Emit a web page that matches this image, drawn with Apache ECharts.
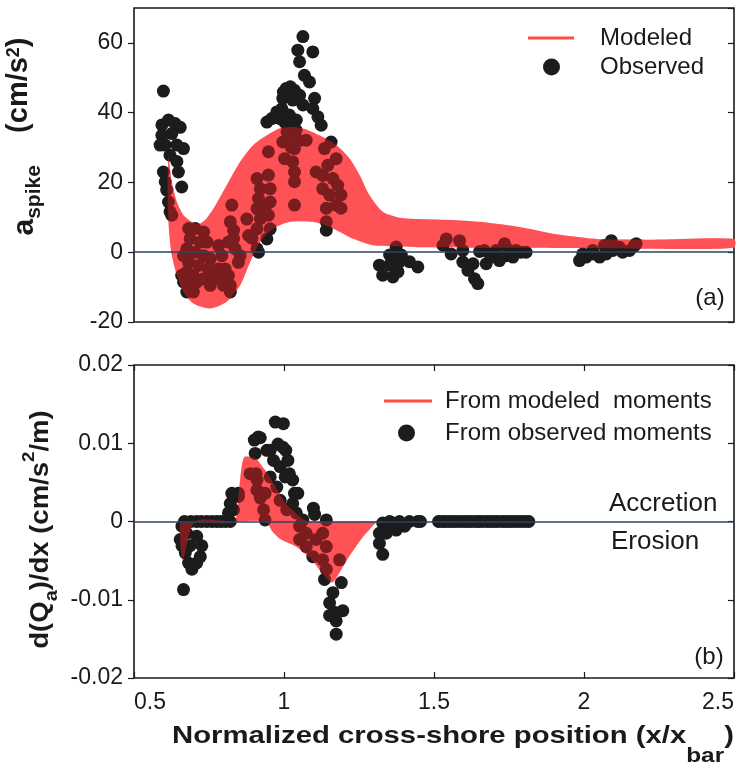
<!DOCTYPE html>
<html>
<head>
<meta charset="utf-8">
<script src="https://cdn.jsdelivr.net/npm/echarts@6/dist/echarts.min.js"></script>
<style>
  html, body { margin: 0; padding: 0; background: #ffffff; }
  #chart { width: 738px; height: 770px; }
</style>
</head>
<body>
<div id="chart"></div>
<script>
// ---- axis ticks ----
const xTicks = [0.5, 1, 1.5, 2, 2.5];
const spikeTicks = [-20, 0, 20, 40, 60];
const spikeMax = 70;
const fluxTicks = [-0.02, -0.01, 0, 0.01, 0.02];

// ---- panel (a): modeled a_spike envelope (upper and lower edges) ----
const modelUpperX = [0.615, 0.626, 0.643, 0.665, 0.690, 0.704, 0.721, 0.740, 0.765, 0.809, 0.854, 0.898, 0.943, 0.987, 1.032, 1.074, 1.118, 1.174, 1.218, 1.252, 1.285, 1.329, 1.385, 1.452, 1.563, 1.674, 1.785, 1.896, 2.007, 2.063, 2.229, 2.5];
const modelUpperY = [27.8, 20.2, 14.4, 10.6, 8.8, 8.2, 8.2, 9.5, 12.5, 19.2, 25.9, 30.7, 33.5, 35.5, 35.9, 35.2, 33.5, 30.7, 26.9, 22.1, 16.3, 11.6, 9.9, 9.5, 9.2, 8.5, 7.2, 5.3, 4.1, 3.7, 3.6, 3.8];
const modelLowerX = [0.615, 0.612, 0.613, 0.618, 0.626, 0.643, 0.665, 0.698, 0.754, 0.809, 0.854, 0.887, 0.921, 0.965, 1.020, 1.096, 1.163, 1.229, 1.296, 1.374, 1.452, 1.600, 1.800, 2.000, 2.200, 2.500];
const modelLowerY = [27.8, 20.2, 12.5, 4.9, -0.9, -6.6, -11.4, -14.7, -16.1, -14.2, -9.5, -2.8, 3.0, 6.8, 8.7, 8.7, 6.8, 3.9, 2.0, 1.7, 1.4, 1.3, 1.3, 1.2, 1.0, 1.3];

// ---- panel (a): observed a_spike ----
const observedSpike = [
  [0.598,46.2],[0.593,36.5],[0.615,37.9],[0.637,36.9],[0.654,35.8],[0.593,33.5],[0.626,34.0],[0.604,30.7],[0.643,30.7],[0.665,29.7],
  [0.587,30.7],[0.620,27.8],[0.643,26.0],[0.598,23.0],[0.648,23.0],[0.604,20.2],[0.659,18.7],[0.609,17.8],[0.615,14.4],[0.620,11.6],[0.626,10.6],
  [0.659,-6.6],[0.665,-8.5],[0.682,6.8],[0.704,6.8],[0.732,5.8],[0.687,3.9],[0.721,2.9],[0.743,2.9],[0.676,1.0],[0.704,0.0],
  [0.732,-1.0],[0.754,-1.9],[0.665,-1.0],[0.682,-2.9],[0.715,-3.8],[0.748,-4.8],[0.676,-5.7],[0.698,-6.7],[0.732,-7.6],[0.765,-7.6],
  [0.687,-9.5],[0.709,-8.6],[0.698,-11.4],[0.676,-11.4],[0.754,-9.5],
  [0.782,1.9],[0.793,-1.0],[0.782,-4.8],[0.804,-4.8],[0.787,-7.6],[0.815,-6.7],[0.821,-9.5],[0.821,-11.4],[0.798,-9.5],
  [0.826,13.5],[0.821,8.7],[0.832,6.3],[0.815,2.9],[0.837,1.0],[0.854,-1.0],[0.848,-2.9],[0.832,3.9],
  [0.876,9.5],[0.882,4.8],[0.893,4.0],[0.910,1.0],[0.915,0.0],
  [0.910,21.1],[0.921,18.2],[0.915,15.4],[0.910,12.5],[0.921,9.6],[0.910,6.7],[0.943,3.8],[0.954,6.7],[0.948,22.1],[0.954,18.2],
  [0.954,14.4],[0.948,10.6],[0.937,12.5],[0.948,28.8],
  [0.959,38.3],[0.987,38.3],[1.009,37.3],[0.976,40.2],[0.993,41.1],[0.943,37.3],[0.998,45.9],[1.015,45.0],[1.021,47.4],
  [1.063,61.8],[1.046,57.9],[1.096,57.4],[1.052,54.6],[1.068,50.7],[1.085,48.8],[1.007,46.9],[1.035,46.4],[1.052,45.0],[1.102,44.1],
  [0.996,44.1],[1.029,43.6],[1.063,42.2],[1.096,41.2],[1.113,38.8],[1.124,36.4],[0.996,40.2],[1.018,39.3],[1.041,37.9],[1.002,37.3],
  [1.074,32.1],[1.018,33.5],[1.035,29.7],[1.029,25.9],[1.035,23.0],[1.035,20.2],[1.035,13.5],[0.996,31.6],[1.002,26.8],
  [1.010,34.5],[1.040,35.0],[1.050,32.0],[1.025,30.0],
  [1.157,31.6],[1.135,29.7],[1.174,26.8],[1.146,24.9],[1.107,23.0],[1.129,22.0],[1.163,21.1],[1.179,19.2],[1.129,18.2],[1.152,16.4],
  [1.190,16.4],[1.174,13.5],[1.141,12.6],[1.190,12.6],[1.141,8.7],[1.141,6.3],
  [1.374,1.5],[1.352,-0.8],[1.391,-0.8],[1.318,-3.7],[1.352,-3.7],[1.385,-2.7],[1.418,-2.7],[1.446,-4.2],[1.329,-6.6],[1.363,-7.1],[1.380,-5.6],
  [1.541,3.8],[1.530,2.0],[1.557,-0.5],[1.585,3.3],[1.596,0.5],[1.596,-2.8],[1.613,-5.2],[1.635,-7.6],[1.646,-9.0],[1.630,-3.3],
  [1.652,0.2],[1.668,0.5],[1.674,-3.3],[1.690,-1.4],[1.718,-2.4],[1.707,0.5],[1.735,2.4],[1.752,0.5],[1.774,0.5],[1.790,0.0],
  [1.807,0.0],[1.741,-1.0],[1.763,-1.4],
  [1.985,-2.4],[2.007,-1.4],[2.029,-0.5],[2.052,-1.4],[2.074,-0.5],[2.091,3.3],[2.096,0.5],[2.118,1.4],[2.129,0.0],[2.152,0.5],
  [2.168,1.9],[2.174,2.4],[2.068,1.9],[2.029,0.5],[1.996,-0.5]
];

// ---- panel (b): dQa/dx from modeled moments (upper and lower edges) ----
const fluxUpperX = [0.652, 0.700, 0.833, 0.850, 0.867, 0.907, 0.930, 0.953, 0.980, 1.006, 1.033, 1.059, 1.085, 1.310];
const fluxUpperY = [0, 0, 0, 0.0040, 0.0082, 0.0080, 0.0069, 0.0057, 0.0039, 0.0023, 0.0013, 0.0004, 0, 0];
const fluxLowerX = [0.652, 0.656, 0.663, 0.704, 0.833, 0.940, 0.960, 0.990, 1.040, 1.090, 1.125, 1.160, 1.190, 1.215, 1.240, 1.265, 1.290, 1.310];
const fluxLowerY = [0, -0.0035, -0.0049, 0, 0, 0, -0.0012, -0.0023, -0.0032, -0.0048, -0.0065, -0.0078, -0.0062, -0.0046, -0.0032, -0.0019, -0.0008, 0];

// ---- panel (b): dQa/dx from observed moments ----
const observedFlux = [
  [0.665,-0.0087],[0.654,-0.0023],[0.660,-0.0031],[0.671,-0.0040],[0.682,-0.0053],[0.693,-0.0061],[0.709,-0.0053],[0.721,-0.0045],
  [0.726,-0.0031],[0.709,-0.0019],[0.687,-0.0031],[0.676,-0.0015],[0.660,-0.0006],
  [0.668,0],[0.690,0],[0.709,0],[0.725,0],[0.743,0],[0.760,0],[0.776,0],[0.790,0],[0.805,0],[0.821,0],
  [0.815,0.0011],[0.821,0.0023],[0.826,0.0036],[0.848,0.0032],[0.832,0.0015],
  [0.887,0.0061],[0.910,0.0053],[0.910,0.0040],[0.921,0.0030],[0.932,0.0015],[0.937,0.0002],[0.907,0.0061],[0.937,0.0036],[0.848,0.0036],
  [0.904,0.0087],[0.921,0.0107],[0.901,0.0104],[0.914,0.0108],[0.971,0.0127],[0.998,0.0125],[0.980,0.0099],[0.943,0.0091],[0.954,0.0091],
  [0.965,0.0078],[0.987,0.0070],[0.954,0.0057],[0.976,0.0044],[1.004,0.0057],[0.987,0.0027],[1.009,0.0015],
  [0.996,0.0095],[1.006,0.0091],[1.013,0.0078],[1.018,0.0061],[1.029,0.0053],[1.035,0.0036],[1.046,0.0036],[1.029,0.0023],[1.041,0.0011],
  [1.098,0.0017],[1.102,0.0009],[1.141,0.0002],[1.063,0.0002],
  [1.052,-0.0006],[1.074,-0.0015],[1.052,-0.0023],[1.074,-0.0032],[1.107,-0.0023],[1.129,-0.0015],[1.141,-0.0032],[1.096,-0.0045],
  [1.129,-0.0049],[1.185,-0.0049],[1.141,-0.0061],[1.135,-0.0074],[1.191,-0.0078],[1.163,-0.0091],[1.152,-0.0104],[1.168,-0.0116],
  [1.196,-0.0114],[1.174,-0.0127],[1.174,-0.0144],[1.152,-0.0120],
  [1.329,-0.0002],[1.352,0],[1.385,0],[1.418,0],[1.446,0],[1.318,-0.0015],[1.341,-0.0015],[1.374,-0.0011],[1.402,-0.0006],
  [1.318,-0.0028],[1.329,-0.0042],[1.363,-0.0002],
  [1.455,0],[1.515,0],[1.527,0],[1.538,0],[1.551,0],[1.563,0],[1.574,0],[1.588,0],[1.601,0],[1.612,0],[1.625,0],[1.639,0],
  [1.650,0],[1.662,0],[1.676,0],[1.688,0],[1.701,0],[1.713,0],[1.727,0],[1.739,0],[1.752,0],[1.764,0],[1.777,0],[1.790,0],
  [1.803,0],[1.816,0]
];

// ---- styling ----
const FONT = '"Liberation Sans", Arial, Helvetica, sans-serif';
const INK = '#1a1a1a';
const DOT = '#1c1c1c';
const LEGEND_RED = '#ff4d3d';
const BAND_BASE = 'rgb(255,120,125)';          // envelope, painted under the dots
const BAND_TINT = 'rgba(255,30,35,0.42)';      // same envelope, tinting the dots it covers
const ZERO_LINE = '#2c4562';

// Envelope polygon: upper edge left->right, lower edge right->left.
function envelope(name, xi, yi, upX, upY, loX, loY, fill, z) {
  return {
    name: name, type: 'custom', xAxisIndex: xi, yAxisIndex: yi, z: z, silent: true,
    itemStyle: { color: LEGEND_RED },
    data: [[upX[0], upY[0]]],
    encode: { x: 0, y: 1 },
    renderItem: function (params, api) {
      const pts = [];
      for (let i = 0; i < upX.length; i++) pts.push(api.coord([upX[i], upY[i]]));
      for (let i = loX.length - 1; i >= 0; i--) pts.push(api.coord([loX[i], loY[i]]));
      return { type: 'polygon', shape: { points: pts, smooth: 0.25, smoothConstraint: false },
               style: { fill: fill, stroke: null } };
    }
  };
}

function zeroLine(xi, yi) {
  return {
    type: 'line', xAxisIndex: xi, yAxisIndex: yi, z: 1, silent: true, data: [],
    markLine: {
      silent: true, symbol: ['none', 'none'], label: { show: false },
      lineStyle: { color: ZERO_LINE, width: 1.6, type: 'solid' },
      data: [{ yAxis: 0 }]
    }
  };
}

const tickLine = { color: INK, width: 1.2 };
const labelStyle = { fontFamily: FONT, fontSize: 23, color: INK };
const hiddenLine = { show: false, onZero: false };

function legendBox(name, icon, color, left, top, w, h, pad) {
  return {
    data: [{ name: name, icon: icon, itemStyle: { color: color, opacity: 1 } }],
    left: left, top: top, itemWidth: w, itemHeight: h, selectedMode: false,
    textStyle: { fontFamily: FONT, fontSize: 24, color: INK, padding: [0, 0, 0, pad] }
  };
}

function dots(name, xi, yi, data) {
  return {
    name: name, type: 'scatter', xAxisIndex: xi, yAxisIndex: yi, z: 3, silent: true,
    symbol: 'circle', symbolSize: 13, itemStyle: { color: DOT, opacity: 1 }, data: data
  };
}

const option = {
  animation: false,
  backgroundColor: '#ffffff',
  textStyle: { fontFamily: FONT },
  grid: [
    { left: 134, top: 8, width: 600, height: 314, show: true, borderColor: INK, borderWidth: 1.6, backgroundColor: 'transparent' },
    { left: 134, top: 365, width: 600, height: 313, show: true, borderColor: INK, borderWidth: 1.6, backgroundColor: 'transparent' }
  ],
  xAxis: [
    { gridIndex: 0, type: 'value', min: xTicks[0], max: xTicks[xTicks.length - 1], interval: xTicks[1] - xTicks[0],
      axisLine: hiddenLine, axisTick: { show: false }, axisLabel: { show: false }, splitLine: { show: false } },
    { gridIndex: 1, type: 'value', position: 'bottom', min: xTicks[0], max: xTicks[xTicks.length - 1], interval: xTicks[1] - xTicks[0],
      axisLine: hiddenLine, axisTick: { inside: true, length: 6, lineStyle: tickLine },
      axisLabel: Object.assign({ margin: 13, alignMinLabel: 'left', alignMaxLabel: 'right' }, labelStyle),
      splitLine: { show: false } },
    { gridIndex: 1, type: 'value', position: 'top', min: xTicks[0], max: xTicks[xTicks.length - 1], interval: xTicks[1] - xTicks[0],
      axisLine: hiddenLine, axisTick: { inside: true, length: 6, lineStyle: tickLine },
      axisLabel: { show: false }, splitLine: { show: false } }
  ],
  yAxis: [
    { gridIndex: 0, type: 'value', position: 'left', min: spikeTicks[0], max: spikeMax, interval: spikeTicks[1] - spikeTicks[0],
      axisLine: hiddenLine, axisTick: { inside: false, length: 6, lineStyle: tickLine },
      axisLabel: Object.assign({ margin: 11, showMaxLabel: false }, labelStyle), splitLine: { show: false } },
    { gridIndex: 0, type: 'value', position: 'right', min: spikeTicks[0], max: spikeMax, interval: spikeTicks[1] - spikeTicks[0],
      axisLine: hiddenLine, axisTick: { inside: true, length: 6, lineStyle: tickLine },
      axisLabel: { show: false }, splitLine: { show: false } },
    { gridIndex: 1, type: 'value', position: 'left', min: fluxTicks[0], max: fluxTicks[fluxTicks.length - 1], interval: 0.01,
      axisLine: hiddenLine, axisTick: { inside: false, length: 6, lineStyle: tickLine },
      axisLabel: Object.assign({ margin: 11 }, labelStyle), splitLine: { show: false } },
    { gridIndex: 1, type: 'value', position: 'right', min: fluxTicks[0], max: fluxTicks[fluxTicks.length - 1], interval: 0.01,
      axisLine: hiddenLine, axisTick: { inside: true, length: 6, lineStyle: tickLine },
      axisLabel: { show: false }, splitLine: { show: false } }
  ],
  legend: [
    legendBox('Modeled', 'rect', LEGEND_RED, 523, 21, 46, 3, 21),
    legendBox('Observed', 'circle', DOT, 538, 50, 17, 17, 35),
    legendBox('From modeled  moments', 'rect', LEGEND_RED, 379, 384, 48, 3, 8),
    legendBox('From observed moments', 'circle', DOT, 393, 416, 17, 17, 25)
  ],
  series: [
    zeroLine(0, 0),
    envelope('Modeled', 0, 0, modelUpperX, modelUpperY, modelLowerX, modelLowerY, BAND_BASE, 2),
    dots('Observed', 0, 0, observedSpike),
    envelope('Modeled', 0, 0, modelUpperX, modelUpperY, modelLowerX, modelLowerY, BAND_TINT, 4),

    zeroLine(1, 2),
    envelope('From modeled  moments', 1, 2, fluxUpperX, fluxUpperY, fluxLowerX, fluxLowerY, BAND_BASE, 2),
    dots('From observed moments', 1, 2, observedFlux),
    envelope('From modeled  moments', 1, 2, fluxUpperX, fluxUpperY, fluxLowerX, fluxLowerY, BAND_TINT, 4)
  ],
  graphic: [
    { type: 'text', x: 24.6, y: 136.5, rotation: Math.PI / 2, silent: true,
      style: {
        text: '{a|a}{s|spike}{g|    }{p|(cm/s}{u|2}{p|)}',
        align: 'center', verticalAlign: 'middle', fill: INK,
        rich: {
          a: { fontFamily: FONT, fontWeight: 'bold', fontSize: 30, lineHeight: 40, verticalAlign: 'middle', fill: INK },
          s: { fontFamily: FONT, fontWeight: 'bold', fontSize: 21, lineHeight: 28, verticalAlign: 'bottom', fill: INK },
          g: { fontFamily: FONT, fontWeight: 'bold', fontSize: 29, lineHeight: 40, verticalAlign: 'middle', fill: INK },
          p: { fontFamily: FONT, fontWeight: 'bold', fontSize: 29, lineHeight: 33, verticalAlign: 'top', fill: INK },
          u: { fontFamily: FONT, fontWeight: 'bold', fontSize: 18, lineHeight: 22, verticalAlign: 'top', fill: INK }
        }
      } },
    { type: 'text', x: 41.2, y: 529.5, rotation: Math.PI / 2, scaleX: 1.1, silent: true,
      style: {
        text: '{m|d(Q}{s|a}{m|)/dx (cm/s}{u|2}{m|/m)}',
        align: 'center', verticalAlign: 'middle', fill: INK,
        rich: {
          m: { fontFamily: FONT, fontWeight: 'bold', fontSize: 25, lineHeight: 40, verticalAlign: 'middle', fill: INK },
          s: { fontFamily: FONT, fontWeight: 'bold', fontSize: 18, lineHeight: 25, verticalAlign: 'bottom', fill: INK },
          u: { fontFamily: FONT, fontWeight: 'bold', fontSize: 17, lineHeight: 24, verticalAlign: 'top', fill: INK }
        }
      } },
    { type: 'text', x: 453, y: 736.6, scaleX: 1.22, silent: true,
      style: {
        text: '{m|Normalized cross-shore position (x/x}{s|bar}{m|)}',
        align: 'center', verticalAlign: 'middle', fill: INK,
        rich: {
          m: { fontFamily: FONT, fontWeight: 'bold', fontSize: 24, lineHeight: 60, verticalAlign: 'middle', fill: INK },
          s: { fontFamily: FONT, fontWeight: 'bold', fontSize: 20, lineHeight: 14, verticalAlign: 'bottom', fill: INK }
        }
      } },
    { type: 'text', x: 710, y: 298, silent: true,
      style: { text: '(a)', font: '24px ' + FONT, fill: INK, align: 'center', verticalAlign: 'middle' } },
    { type: 'text', x: 709, y: 657, silent: true,
      style: { text: '(b)', font: '24px ' + FONT, fill: INK, align: 'center', verticalAlign: 'middle' } },
    { type: 'text', x: 609, y: 504, silent: true,
      style: { text: 'Accretion', font: '26px ' + FONT, fill: INK, align: 'left', verticalAlign: 'middle' } },
    { type: 'text', x: 611, y: 541.5, silent: true,
      style: { text: 'Erosion', font: '26px ' + FONT, fill: INK, align: 'left', verticalAlign: 'middle' } }
  ]
};

const chart = echarts.init(document.getElementById('chart'), null, { renderer: 'canvas' });
chart.setOption(option);
</script>
</body>
</html>
